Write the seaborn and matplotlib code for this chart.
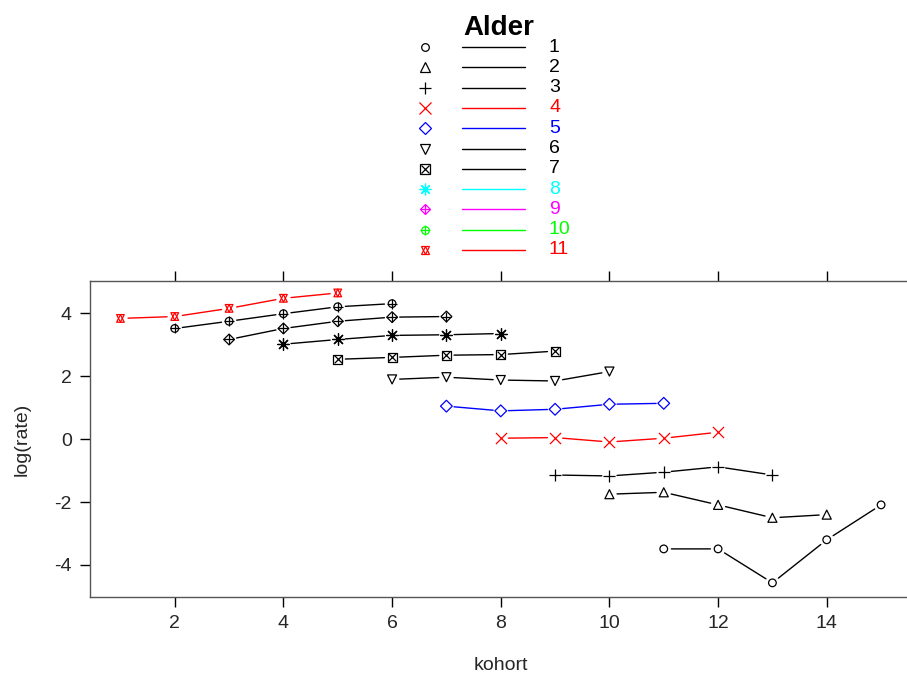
import numpy as np
import pandas as pd
import seaborn as sns
import matplotlib.pyplot as plt
from matplotlib.lines import Line2D

# data: log(rate) per age group (alder) and cohort (kohort)
alder = [1] * 5 + [2] * 5 + [3] * 5 + [4] * 5 + [5] * 5 + [6] * 5 + \
        [7] * 5 + [8] * 5 + [9] * 5 + [10] * 5 + [11] * 5
kohort = [11, 12, 13, 14, 15,
          10, 11, 12, 13, 14,
          9, 10, 11, 12, 13,
          8, 9, 10, 11, 12,
          7, 8, 9, 10, 11,
          6, 7, 8, 9, 10,
          5, 6, 7, 8, 9,
          4, 5, 6, 7, 8,
          3, 4, 5, 6, 7,
          2, 3, 4, 5, 6,
          1, 2, 3, 4, 5]
lograte = [-3.49, -3.49, -4.57, -3.20, -2.09,
           -1.75, -1.69, -2.09, -2.50, -2.40,
           -1.14, -1.17, -1.05, -0.88, -1.14,
           0.03, 0.05, -0.09, 0.03, 0.22,
           1.05, 0.90, 0.95, 1.11, 1.14,
           1.90, 1.97, 1.88, 1.85, 2.15,
           2.54, 2.60, 2.67, 2.69, 2.80,
           3.02, 3.17, 3.30, 3.32, 3.36,
           3.17, 3.52, 3.75, 3.88, 3.90,
           3.52, 3.75, 3.99, 4.21, 4.31,
           3.84, 3.90, 4.16, 4.48, 4.65]
groups = list(range(1, 12))

# colours used in the panel vs. in the key (they differ in the original)
plot_colors = ['black', 'black', 'black', 'red', 'blue', 'black',
               'black', 'black', 'black', 'black', 'red']
key_colors = ['black', 'black', 'black', 'red', 'blue', 'black',
              'black', 'cyan', 'magenta', '#00FF00', 'red']

# R pch 1..11 emulated with (marker, size in pt, filled-type) layers
symbols = {
    1: [('o', 5.5, True)],
    2: [('^', 6.5, True)],
    3: [('+', 8.0, False)],
    4: [('x', 8.0, False)],
    5: [('D', 6.0, True)],
    6: [('v', 6.5, True)],
    7: [('s', 6.5, True), ('x', 5.5, False)],
    8: [((8, 2, 0), 8.5, False)],
    9: [('D', 5.5, True), ('+', 6.5, False)],
    10: [('o', 5.5, True), ('+', 6.5, False)],
    11: [('^', 5.5, True), ('v', 5.5, True)],
}

df = pd.DataFrame({'alder': alder, 'kohort': kohort, 'lograte': lograte})

sns.set_style('white')
plt.rcParams['font.family'] = ['Liberation Sans', 'DejaVu Sans']
plt.rcParams['axes.unicode_minus'] = False

fig = plt.figure(figsize=(9.07, 6.84), dpi=100)
ax = fig.add_axes([90 / 907, 87 / 684, 821.5 / 907, 316 / 684])

for g, col in zip(groups, plot_colors):
    sub = df[df['alder'] == g].sort_values('kohort')
    xs = sub['kohort'].to_numpy()
    ys = sub['lograte'].to_numpy()
    # type="b": line segments with a gap around each point
    for i in range(len(xs) - 1):
        ax.annotate('', xy=(xs[i + 1], ys[i + 1]), xytext=(xs[i], ys[i]),
                    arrowprops=dict(arrowstyle='-', color=col, lw=1.0,
                                    shrinkA=5.5, shrinkB=5.5))
    for m, size, filled in symbols[g]:
        if filled:
            sns.scatterplot(x=xs, y=ys, marker=m, s=size ** 2, facecolor='none',
                            edgecolor=col, linewidth=0.9, ax=ax, legend=False, zorder=3)
        else:
            sns.scatterplot(x=xs, y=ys, marker=m, s=size ** 2, color=col,
                            linewidth=0.9, ax=ax, legend=False, zorder=3)

ax.set_xlim(0.44, 15.56)
ax.set_ylim(-5.02, 5.03)
ax.set_xticks(np.arange(2, 15, 2))
ax.set_yticks(np.arange(-4, 5, 2))
ax.tick_params(axis='both', direction='out', length=7, width=1, color='black',
               labelsize=14, pad=6, top=True, bottom=True, left=True)
for sp in ax.spines.values():
    sp.set_color('#555555')
    sp.set_linewidth(1)

ax.set_xlabel('kohort', fontsize=14, va='center')
ax.xaxis.set_label_coords(0.5, (597 - 665) / 316)
ax.set_ylabel('log(rate)', fontsize=14, va='center')
ax.yaxis.set_label_coords((22 - 90) / 821.5, 0.5)

# key on top of the panel
W, H = 907, 684
fig.text(499 / W, 1 - 28 / H, 'Alder', fontsize=20, fontweight='bold',
         color='black', ha='center', va='center')
for i, (g, col) in enumerate(zip(groups, key_colors)):
    yy = 1 - (47 + 20.3 * i) / H
    for m, size, filled in symbols[g]:
        fig.add_artist(Line2D([425 / W], [yy], transform=fig.transFigure,
                              marker=m, markersize=size, linestyle='none',
                              markerfacecolor='none', markeredgecolor=col,
                              markeredgewidth=0.9))
    fig.add_artist(Line2D([462 / W, 525 / W], [yy, yy], transform=fig.transFigure,
                          color=col, lw=1))
    fig.text(549 / W, yy, str(g), color=col, fontsize=14, ha='left', va='center')

fig.savefig('out.png', dpi=100)
